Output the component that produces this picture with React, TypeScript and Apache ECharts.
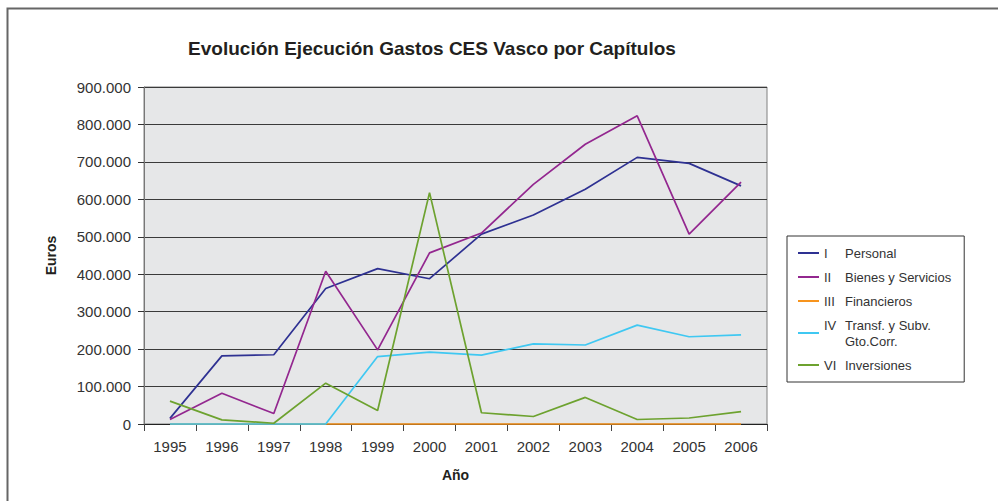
import React, { useEffect, useRef } from "react";
import * as echarts from "echarts";

const years = ["1995", "1996", "1997", "1998", "1999", "2000", "2001", "2002", "2003", "2004", "2005", "2006"];
const romans = ["I", "II", "III", "IV", "VI"];
const chapterNames = ["Personal", "Bienes y Servicios", "Financieros", "Transf. y Subv.\nGto.Corr.", "Inversiones"];
const personal = [15000, 182000, 185000, 362000, 415000, 388000, 507000, 558000, 627000, 712000, 696000, 636000];
const bienes = [12000, 82000, 28000, 408000, 198000, 457000, 510000, 640000, 747000, 823000, 507000, 646000];
const financieros = [0, 0, 0, 0, 0, 0, 0, 0, 0, 0, 0, 0];
const transf = [0, 0, 0, 0, 180000, 192000, 184000, 214000, 211000, 264000, 233000, 238000];
const inversiones = [61000, 11000, 2000, 109000, 36000, 618000, 30000, 20000, 71000, 12000, 16000, 33000];
const colors = ["#2E3192", "#93278F", "#F7941D", "#3FC8F2", "#6DA22F"];
const titleText = "Evolución Ejecución Gastos CES Vasco por Capítulos";

const FONT = "'Liberation Sans', Arial, Helvetica, sans-serif";

function fmt(v: number): string {
  if (v === 0) return "0";
  const th = Math.floor(v / 1000);
  const rest = String(v % 1000).padStart(3, "0");
  return th + "." + rest;
}

export default function App() {
  const ref = useRef<HTMLDivElement>(null);
  useEffect(() => {
    if (!ref.current) return;
    const chart = echarts.init(ref.current, null, { renderer: "svg" });
    const seriesData = [personal, bienes, financieros, transf, inversiones];
    const seriesNames = romans.map((r, i) => r + " " + chapterNames[i].replace("\n", " "));
    chart.setOption({
      animation: false,
      backgroundColor: "#ffffff",
      textStyle: { fontFamily: FONT },
      graphic: [
        {
          type: "rect",
          shape: { x: 7.5, y: 8.5, width: 1100, height: 600 },
          style: { fill: "none", stroke: "#666666", lineWidth: 2 },
          silent: true,
        },
        {
          type: "text",
          x: 432,
          y: 48,
          style: {
            text: titleText,
            textAlign: "center",
            textVerticalAlign: "middle",
            fontFamily: FONT,
            fontWeight: "bold",
            fontSize: 19,
            fill: "#231F20",
          },
        },
      ],
      grid: {
        left: 144,
        right: 231,
        top: 87,
        bottom: 77,
        show: true,
        backgroundColor: "#E6E7E8",
        borderColor: "#808080",
        borderWidth: 1,
      },
      legend: {
        orient: "vertical",
        left: 787,
        top: 236,
        padding: [9, 13, 9, 11],
        itemGap: 8,
        itemWidth: 21,
        itemHeight: 2,
        icon: "rect",
        borderColor: "#333333",
        borderWidth: 1,
        backgroundColor: "#ffffff",
        data: seriesNames,
        formatter: (name: string) => {
          const i = seriesNames.indexOf(name);
          const parts = chapterNames[i].split("\n");
          return parts
            .map((p, k) => "{n|" + (k === 0 ? romans[i] : " ") + "}{t|" + p + "}")
            .join("\n");
        },
        textStyle: {
          fontFamily: FONT,
          fontSize: 13,
          color: "#333333",
          lineHeight: 16,
          rich: {
            n: { width: 21, fontSize: 13, lineHeight: 16, fontFamily: FONT, color: "#333333" },
            t: { fontSize: 13, lineHeight: 16, fontFamily: FONT, color: "#333333" },
          },
        },
      },
      xAxis: {
        type: "category",
        data: years,
        boundaryGap: true,
        name: "Año",
        nameLocation: "middle",
        nameGap: 44,
        nameTextStyle: { fontFamily: FONT, fontWeight: "bold", fontSize: 14, color: "#231F20" },
        axisLine: { show: true, lineStyle: { color: "#222222", width: 1 } },
        axisTick: { show: true, length: 7, lineStyle: { color: "#444444" } },
        axisLabel: { margin: 15, fontFamily: FONT, fontSize: 15, color: "#333333" },
        splitLine: { show: false },
      },
      yAxis: {
        type: "value",
        min: 0,
        max: 900000,
        interval: 100000,
        name: "Euros",
        nameLocation: "middle",
        nameRotate: 90,
        nameGap: 86,
        nameTextStyle: { fontFamily: FONT, fontWeight: "bold", fontSize: 14, color: "#231F20" },
        axisLine: { show: true, lineStyle: { color: "#777777", width: 1 } },
        axisTick: { show: true, length: 6, lineStyle: { color: "#333333" } },
        axisLabel: { margin: 13, fontFamily: FONT, fontSize: 15, color: "#333333", formatter: fmt },
        splitLine: { show: true, lineStyle: { color: "#3a3a3a", width: 1 } },
      },
      series: seriesNames.map((n, i) => ({
        name: n,
        type: "line",
        data: seriesData[i],
        symbol: "none",
        clip: false,
        z: 5,
        color: colors[i],
        lineStyle: { color: colors[i], width: 1.7 },
        emphasis: { disabled: true },
      })),
    });
    return () => chart.dispose();
  }, []);
  return (
    <div
      ref={ref}
      style={{ position: "fixed", left: 0, top: 0, width: 998, height: 501, background: "#ffffff" }}
    />
  );
}
